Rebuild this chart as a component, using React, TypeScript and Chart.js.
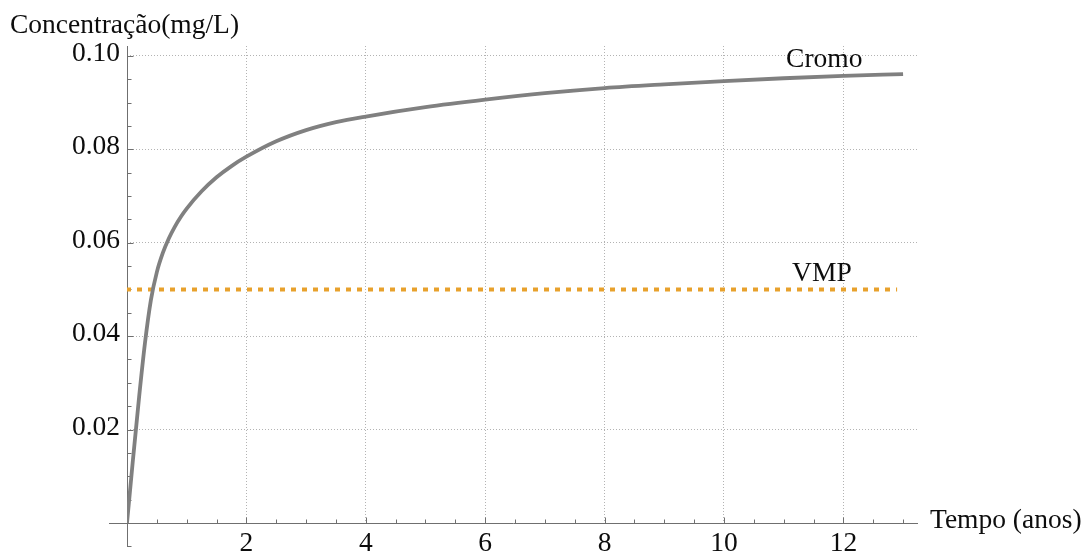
import React, { useEffect, useRef } from "react";
import { Chart, registerables } from "chart.js";

Chart.register(...registerables);

// ---- data ----
const timeYears = [0, 0.1, 0.2, 0.3, 0.4, 0.5, 0.6, 0.7, 0.8, 0.9, 1.0, 1.25, 1.5, 1.75, 2.0, 2.5, 3.0, 3.5, 4, 5, 6, 7, 8, 9, 10, 11, 12, 13];
const cromoConc = [0, 0.0136, 0.0266, 0.0384, 0.0477, 0.0537, 0.0578, 0.0609, 0.0634, 0.0655, 0.0673, 0.071, 0.074, 0.0764, 0.0784, 0.0817, 0.0841, 0.0858, 0.087, 0.089, 0.0906, 0.092, 0.0931, 0.0939, 0.0946, 0.0952, 0.0957, 0.0961];
const vmpTime = [0, 12.9];
const vmpConc = [0.05, 0.05];
const xTickValues = [2, 4, 6, 8, 10, 12];
const yTickValues = [0.02, 0.04, 0.06, 0.08, 0.1];

const yAxisTitle = "Concentração(mg/L)";
const xAxisTitle = "Tempo (anos)";
const cromoLabel = "Cromo";
const vmpLabel = "VMP";

// annotation anchors (data coordinates)
const cromoLabelAt = { x: 11.68, y: 0.0977 };
const vmpLabelAt = { x: 11.64, y: 0.0518 };

// ---- styles ----
const FAMILY = "'Liberation Serif', 'Times New Roman', serif";
const FONT_SIZE = 27.5;
const TEXT_COLOR = "#0d0d0d";
const AXIS_COLOR = "#6f6f6f";
const GRID_COLOR = "#b3b3b3";
const CURVE_COLOR = "#808080";
const VMP_COLOR = "#e8a12c";

const decorPlugin = {
  id: "decor",
  beforeDatasetsDraw(chart: any) {
    const { ctx, scales } = chart;
    const x = scales.x;
    const y = scales.y;
    const x0 = Math.round(x.getPixelForValue(0)) + 0.5;
    const y0 = Math.round(y.getPixelForValue(0)) + 0.5;
    ctx.save();
    ctx.strokeStyle = AXIS_COLOR;
    ctx.lineWidth = 1;
    ctx.beginPath();
    // x axis (extends a little left of origin)
    ctx.moveTo(Math.round(x.getPixelForValue(-0.3)), y0);
    ctx.lineTo(x.right, y0);
    // y axis (extends a little below origin)
    ctx.moveTo(x0, Math.round(y.getPixelForValue(-0.0052)));
    ctx.lineTo(x0, y.top);
    // y ticks every 0.005
    for (let k = -1; k <= 20; k++) {
      if (k === 0) continue;
      const py = Math.round(y.getPixelForValue(k * 0.005)) + 0.5;
      const len = k % 4 === 0 ? 6 : 4;
      ctx.moveTo(x0, py);
      ctx.lineTo(x0 + len, py);
    }
    // x ticks every 0.5
    for (let k = 1; k <= 26; k++) {
      const px = Math.round(x.getPixelForValue(k * 0.5)) + 0.5;
      const len = k % 4 === 0 ? 6 : 4;
      ctx.moveTo(px, y0);
      ctx.lineTo(px, y0 - len);
    }
    ctx.stroke();
    ctx.restore();
  },
  afterDraw(chart: any) {
    const { ctx, scales } = chart;
    const x = scales.x;
    const y = scales.y;
    ctx.save();
    ctx.fillStyle = TEXT_COLOR;
    ctx.font = `${FONT_SIZE}px ${FAMILY}`;
    ctx.textBaseline = "alphabetic";
    ctx.textAlign = "left";
    ctx.fillText(yAxisTitle, 10, 33);
    ctx.fillText(xAxisTitle, 930, 528);
    ctx.textAlign = "center";
    ctx.fillText(cromoLabel, x.getPixelForValue(cromoLabelAt.x), y.getPixelForValue(cromoLabelAt.y));
    ctx.fillText(vmpLabel, x.getPixelForValue(vmpLabelAt.x), y.getPixelForValue(vmpLabelAt.y));
    ctx.restore();
  },
};

export default function App() {
  const canvasRef = useRef<HTMLCanvasElement | null>(null);

  useEffect(() => {
    const canvas = canvasRef.current;
    if (!canvas) return;
    const tickFont = { family: FAMILY, size: FONT_SIZE };
    const chart = new Chart(canvas, {
      type: "line",
      data: {
        datasets: [
          {
            label: cromoLabel,
            data: timeYears.map((t, i) => ({ x: t, y: cromoConc[i] })),
            borderColor: CURVE_COLOR,
            borderWidth: 3.8,
            pointRadius: 0,
            fill: false,
            cubicInterpolationMode: "monotone",
          },
          {
            label: vmpLabel,
            data: vmpTime.map((t, i) => ({ x: t, y: vmpConc[i] })),
            borderColor: VMP_COLOR,
            borderWidth: 4,
            borderDash: [5, 6],
            borderDashOffset: 1,
            pointRadius: 0,
            fill: false,
          },
        ],
      },
      options: {
        animation: false,
        responsive: true,
        maintainAspectRatio: false,
        layout: { padding: { left: 0, top: 46, right: 170, bottom: 0 } },
        plugins: {
          legend: { display: false },
          tooltip: { enabled: false },
          title: { display: false },
        },
        scales: {
          x: {
            type: "linear",
            position: "bottom",
            min: 0,
            max: 13.25,
            afterBuildTicks: (s: any) => {
              s.ticks = xTickValues.map((v) => ({ value: v }));
            },
            afterFit: (s: any) => {
              s.height = 28;
              s.paddingLeft = 0;
              s.paddingRight = 0;
            },
            grid: { color: GRID_COLOR, lineWidth: 1, drawTicks: false },
            border: { display: false, dash: [1, 2] },
            ticks: {
              font: tickFont,
              color: TEXT_COLOR,
              padding: 4,
              maxRotation: 0,
              autoSkip: false,
              callback: (v: any) => String(v),
            },
          },
          y: {
            type: "linear",
            position: "left",
            min: 0,
            max: 0.1021,
            afterBuildTicks: (s: any) => {
              s.ticks = yTickValues.map((v) => ({ value: v }));
            },
            afterFit: (s: any) => {
              s.width = 127;
              s.paddingTop = 0;
              s.paddingBottom = 0;
            },
            grid: { color: GRID_COLOR, lineWidth: 1, drawTicks: false },
            border: { display: false, dash: [1, 2] },
            ticks: {
              font: tickFont,
              color: TEXT_COLOR,
              padding: 7,
              labelOffset: -2,
              autoSkip: false,
              callback: (v: any) => Number(v).toFixed(2),
            },
          },
        },
      },
      plugins: [decorPlugin],
    } as any);
    return () => chart.destroy();
  }, []);

  return (
    <div style={{ position: "fixed", left: 0, top: 0, width: 1088, height: 551, background: "#ffffff" }}>
      <canvas ref={canvasRef} />
    </div>
  );
}
